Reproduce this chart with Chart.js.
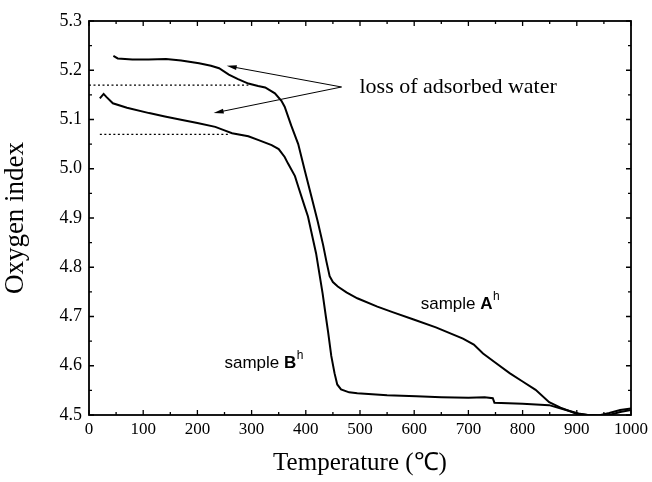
<!DOCTYPE html>
<html>
<head>
<meta charset="utf-8">
<script src="https://cdn.jsdelivr.net/npm/chart.js@4/dist/chart.umd.min.js"></script>
<style>
  html, body { margin: 0; padding: 0; background: #fff; }
  #c { display: block; }
</style>
</head>
<body>
<canvas id="c" width="652" height="482" style="width:652px;height:482px"></canvas>
<script>
// ---- data ----
const sampleA_T = [45, 53, 80, 110, 142, 170, 203, 225, 240, 258, 275, 294, 312, 325, 343, 355, 361, 373, 386, 398, 410, 422, 432, 438, 444, 450, 459, 475, 495, 532, 560, 599, 640, 690, 710, 727, 750, 776, 800, 824, 849, 870, 898, 920, 940, 960, 980, 1000];
const sampleA_O = [5.229, 5.224, 5.222, 5.222, 5.223, 5.220, 5.214, 5.209, 5.204, 5.191, 5.182, 5.173, 5.168, 5.165, 5.153, 5.138, 5.126, 5.088, 5.050, 4.997, 4.945, 4.893, 4.845, 4.812, 4.782, 4.770, 4.761, 4.749, 4.737, 4.720, 4.709, 4.694, 4.678, 4.655, 4.643, 4.625, 4.606, 4.585, 4.568, 4.551, 4.526, 4.515, 4.503, 4.500, 4.499, 4.504, 4.510, 4.513];

const sampleB_T = [20, 27, 32, 44, 70, 111, 140, 172, 200, 233, 250, 264, 294, 313, 337, 350, 361, 367, 380, 386, 398, 404, 419, 431, 437, 441, 447, 453, 458, 465, 480, 495, 550, 604, 650, 700, 730, 745, 748, 800, 849, 880, 903, 920, 940, 960, 980, 1000];
const sampleB_O = [5.143, 5.152, 5.146, 5.133, 5.124, 5.113, 5.106, 5.099, 5.093, 5.085, 5.078, 5.072, 5.066, 5.058, 5.048, 5.040, 5.024, 5.011, 4.985, 4.964, 4.923, 4.903, 4.828, 4.747, 4.700, 4.670, 4.620, 4.585, 4.562, 4.552, 4.546, 4.544, 4.540, 4.538, 4.536, 4.535, 4.536, 4.534, 4.525, 4.523, 4.520, 4.510, 4.503, 4.500, 4.499, 4.500, 4.506, 4.510];

// dotted reference levels
const levelA_T = [0, 294];
const levelA_O = [5.17, 5.17];
const levelB_T = [20, 258];
const levelB_O = [5.07, 5.07];

// ticks
const xTicks = [0, 100, 200, 300, 400, 500, 600, 700, 800, 900, 1000];
const yTicks = [4.5, 4.6, 4.7, 4.8, 4.9, 5.0, 5.1, 5.2, 5.3];

// annotations (data coordinates)
const arrowFrom = [466, 5.166];
const arrowTips = [[254, 5.209], [230, 5.113]];
const waterLabel = { text: 'loss of adsorbed water', T: 499, O: 5.154 };
const labelA = { pre: 'sample ', bold: 'A', sup: 'h', T: 612, O: 4.715 };
const labelB = { pre: 'sample ', bold: 'B', sup: 'h', T: 250, O: 4.595 };

function pts(xs, ys) { return xs.map((x, i) => ({ x: x, y: ys[i] })); }

const SERIF = '"Liberation Serif", "Times New Roman", serif';
const SANS = '"Liberation Sans", Arial, sans-serif';

const framePlugin = {
  id: 'frame',
  afterDatasetsDraw(chart) {
    const { ctx, chartArea: a, scales: { x, y } } = chart;
    ctx.save();
    ctx.strokeStyle = '#000';
    ctx.lineWidth = 1.8;
    ctx.strokeRect(a.left, a.top, a.right - a.left, a.bottom - a.top);
    ctx.lineWidth = 1.3;
    for (let i = 0; i < xTicks.length; i++) {
      const px = x.getPixelForValue(xTicks[i]);
      ctx.beginPath();
      ctx.moveTo(px, a.bottom); ctx.lineTo(px, a.bottom - 5);
      ctx.moveTo(px, a.top); ctx.lineTo(px, a.top + 5);
      ctx.stroke();
      if (i < xTicks.length - 1) {
        const pm = x.getPixelForValue((xTicks[i] + xTicks[i + 1]) / 2);
        ctx.beginPath();
        ctx.moveTo(pm, a.bottom); ctx.lineTo(pm, a.bottom - 3);
        ctx.moveTo(pm, a.top); ctx.lineTo(pm, a.top + 3);
        ctx.stroke();
      }
    }
    for (let i = 0; i < yTicks.length; i++) {
      const py = y.getPixelForValue(yTicks[i]);
      ctx.beginPath();
      ctx.moveTo(a.left, py); ctx.lineTo(a.left + 5, py);
      ctx.moveTo(a.right, py); ctx.lineTo(a.right - 5, py);
      ctx.stroke();
      if (i < yTicks.length - 1) {
        const pm = y.getPixelForValue((yTicks[i] + yTicks[i + 1]) / 2);
        ctx.beginPath();
        ctx.moveTo(a.left, pm); ctx.lineTo(a.left + 3, pm);
        ctx.moveTo(a.right, pm); ctx.lineTo(a.right - 3, pm);
        ctx.stroke();
      }
    }
    // arrows
    ctx.lineWidth = 1;
    ctx.fillStyle = '#000';
    const fx = x.getPixelForValue(arrowFrom[0]), fy = y.getPixelForValue(arrowFrom[1]);
    arrowTips.forEach(t => {
      const tx = x.getPixelForValue(t[0]), ty = y.getPixelForValue(t[1]);
      const ang = Math.atan2(ty - fy, tx - fx);
      ctx.beginPath();
      ctx.moveTo(fx, fy); ctx.lineTo(tx - 6 * Math.cos(ang), ty - 6 * Math.sin(ang));
      ctx.stroke();
      ctx.beginPath();
      ctx.moveTo(tx, ty);
      ctx.lineTo(tx - 10 * Math.cos(ang) + 2.5 * Math.sin(ang), ty - 10 * Math.sin(ang) - 2.5 * Math.cos(ang));
      ctx.lineTo(tx - 10 * Math.cos(ang) - 2.5 * Math.sin(ang), ty - 10 * Math.sin(ang) + 2.5 * Math.cos(ang));
      ctx.closePath();
      ctx.fill();
    });
    // texts
    ctx.textBaseline = 'alphabetic';
    ctx.textAlign = 'left';
    ctx.font = '22px ' + SERIF;
    ctx.fillText(waterLabel.text, x.getPixelForValue(waterLabel.T), y.getPixelForValue(waterLabel.O));
    [labelA, labelB].forEach(L => {
      let px = x.getPixelForValue(L.T);
      const py = y.getPixelForValue(L.O);
      ctx.font = '17px ' + SANS;
      ctx.fillText(L.pre, px, py);
      px += ctx.measureText(L.pre).width;
      ctx.font = 'bold 17px ' + SANS;
      ctx.fillText(L.bold, px, py);
      px += ctx.measureText(L.bold).width + 0.5;
      ctx.font = '12px ' + SANS;
      ctx.fillText(L.sup, px, py - 9);
    });
    ctx.restore();
  }
};

new Chart(document.getElementById('c'), {
  type: 'scatter',
  data: {
    datasets: [
      { data: pts(sampleA_T, sampleA_O), showLine: true, borderColor: '#000', borderWidth: 2, pointRadius: 0, tension: 0 },
      { data: pts(sampleB_T, sampleB_O), showLine: true, borderColor: '#000', borderWidth: 2, pointRadius: 0, tension: 0 },
      { data: pts(levelA_T, levelA_O), showLine: true, borderColor: '#000', borderWidth: 1.3, borderDash: [2, 2.5], pointRadius: 0 },
      { data: pts(levelB_T, levelB_O), showLine: true, borderColor: '#000', borderWidth: 1.3, borderDash: [2, 2.5], pointRadius: 0 }
    ]
  },
  options: {
    responsive: false,
    animation: false,
    events: [],
    layout: { padding: { top: 21, right: 15, left: 0, bottom: 0 } },
    plugins: { legend: { display: false }, tooltip: { enabled: false } },
    scales: {
      x: {
        type: 'linear', min: 0, max: 1000,
        afterFit: s => { s.height = 67; },
        afterBuildTicks: s => { s.ticks = xTicks.map(v => ({ value: v })); },
        grid: { display: false, drawTicks: false },
        border: { display: false },
        ticks: { color: '#000', padding: 4, maxRotation: 0, autoSkip: false, font: { family: SERIF, size: 17 }, callback: v => String(v) },
        title: { display: true, text: 'Temperature (℃)', color: '#000', font: { family: SERIF, size: 25 }, padding: { top: 0, bottom: 4 } }
      },
      y: {
        type: 'linear', min: 4.5, max: 5.3,
        afterFit: s => { s.width = 89; },
        afterBuildTicks: s => { s.ticks = yTicks.map(v => ({ value: v })); },
        grid: { display: false, drawTicks: false },
        border: { display: false },
        ticks: { color: '#000', padding: 7, autoSkip: false, font: { family: SERIF, size: 18 }, callback: v => Number(v).toFixed(1) },
        title: { display: true, text: 'Oxygen index', color: '#000', font: { family: SERIF, size: 27 }, padding: { top: 0, bottom: 0 } }
      }
    }
  },
  plugins: [framePlugin]
});
</script>
</body>
</html>
